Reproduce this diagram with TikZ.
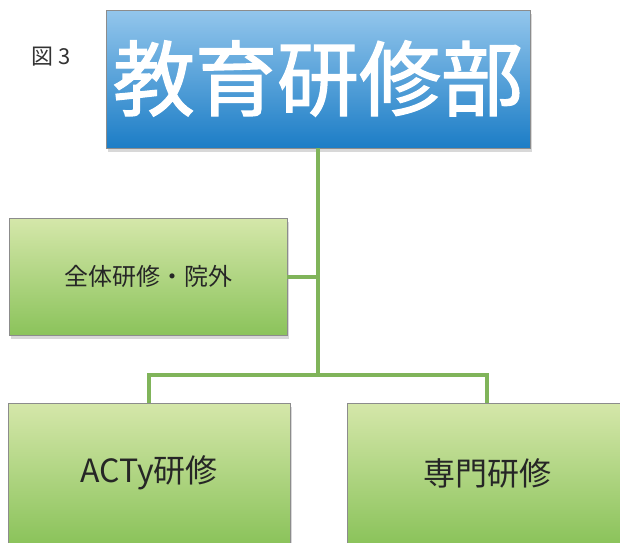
\documentclass[tikz,border=0pt]{standalone}
\usepackage{fontspec}
\newfontfamily\jp{Noto Sans CJK JP}
\newfontfamily\jpt[FakeBold=1.6]{Noto Sans CJK JP}
\usetikzlibrary{shadows}
\definecolor{bluetop}{HTML}{93C6EC}
\definecolor{bluebot}{HTML}{1C7DC6}
\definecolor{greentop}{HTML}{D5E7AA}
\definecolor{greenbot}{HTML}{8BC35B}
\definecolor{linegreen}{HTML}{80B45A}
\tikzset{
  bluebox/.style={rectangle, inner sep=0pt, top color=bluetop, bottom color=bluebot,
    draw=black!45, line width=0.8pt, drop shadow={shadow xshift=2pt, shadow yshift=-4pt, opacity=0.3},
    text=white, font=\jpt\fontsize{82}{84}\selectfont},
  greenbox/.style={rectangle, inner sep=0pt, top color=greentop, bottom color=greenbot,
    draw=black!45, line width=0.8pt, drop shadow={shadow xshift=2pt, shadow yshift=-4pt, opacity=0.3},
    text=black!85},
  conn/.style={draw=linegreen, line width=4pt}
}
\begin{document}
\begin{tikzpicture}[x=1pt,y=-1pt]
\clip (0,0) rectangle (620,542);
\fill[white] (0,0) rectangle (620,542);
\node[text=black!80, font=\jp\fontsize{22}{24}\selectfont] (fig) at (51,57) {図 3};
\node[bluebox, minimum width=424pt, minimum height=138pt] (top) at (318,79) {\raisebox{8pt}{教育研修部}};
\node[greenbox, minimum width=278pt, minimum height=117pt, font=\jp\fontsize{24}{26}\selectfont] (b2) at (148,276.5) {全体研修・院外};
\node[greenbox, minimum width=282pt, minimum height=140pt, font=\jp\fontsize{32}{34}\selectfont] (b3) at (149,473) {ACTy研修};
\node[greenbox, minimum width=280pt, minimum height=140pt, font=\jp\fontsize{32}{34}\selectfont] (b4) at (487,473) {専門研修};
\coordinate (j) at (318,375);
\draw[conn] (top.south) -- (j);
\draw[conn] (b2.east) -- (b2.east -| top.south);
\draw[conn, line join=miter] (b3.north) |- (j) -| (b4.north);
\end{tikzpicture}
\end{document}
